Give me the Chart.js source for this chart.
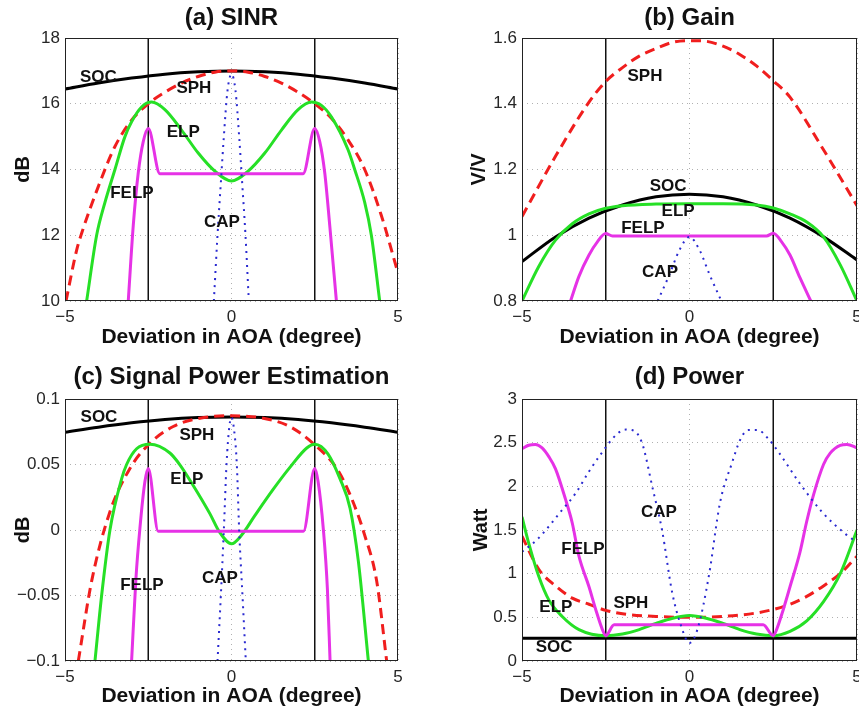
<!DOCTYPE html>
<html>
<head>
<meta charset="utf-8">
<script src="https://cdn.jsdelivr.net/npm/chart.js@4.4.1/dist/chart.umd.min.js"></script>
<style>
  html, body { margin: 0; padding: 0; background: #fff; }
  #wrap { position: relative; width: 859px; height: 712px; overflow: hidden; }
  .panel { position: absolute; width: 430px; height: 356px; }
</style>
</head>
<body>
<div id="wrap">
  <div class="panel" style="left:0;top:0"><canvas id="chart-a" width="430" height="356"></canvas></div>
  <div class="panel" style="left:429px;top:0"><canvas id="chart-b" width="430" height="356"></canvas></div>
  <div class="panel" style="left:0;top:356px"><canvas id="chart-c" width="430" height="356"></canvas></div>
  <div class="panel" style="left:429px;top:356px"><canvas id="chart-d" width="430" height="356"></canvas></div>
</div>
<script>
// shared axis values
const xTicks = [-5, 0, 5];
const edges = [-2.5, 2.5];

// (a) SINR, dB
const sinrTicks = [10, 12, 14, 16, 18];
const sinrSOC = [[-5,16.45],[-4,16.63],[-3,16.78],[-2,16.9],[-1,16.97],[0,17.0],[1,16.97],[2,16.9],[3,16.78],[4,16.63],[5,16.45]];
const sinrSPH = [[-4.97,10.0],[-4.65,11.55],[-4.5,12.06],[-4,13.48],[-3.5,14.7],[-3,15.5],[-2.5,16.0],[-2,16.35],[-1.5,16.63],[-1,16.83],[-0.5,16.96],[0,17.0],[0.5,16.96],[1,16.83],[1.5,16.63],[2,16.35],[2.5,16.0],[3,15.56],[3.5,14.9],[4,14.0],[4.5,12.6],[5,10.85]];
const sinrELP = [[-4.35,10],[-4.05,12],[-3.8,13.0],[-3.5,14.0],[-3.2,15.0],[-3,15.45],[-2.7,15.9],[-2.4,16.05],[-2,15.82],[-1.5,15.2],[-1,14.5],[-0.5,13.95],[0,13.65],[0.5,13.95],[1,14.5],[1.5,15.2],[2,15.82],[2.4,16.05],[2.7,15.95],[3,15.6],[3.5,14.6],[3.7,14.0],[4,13.0],[4.2,12.0],[4.45,10]];
const sinrFELP = [[-3.1,10],[-2.95,12.3],[-2.8,13.9],[-2.65,14.85],[-2.5,15.25],[-2.15,13.87],[0,13.87],[2.15,13.87],[2.5,15.25],[2.65,14.85],[2.8,13.9],[2.95,12.3],[3.15,10]];
const sinrCAP = [[-0.53,10],[-0.42,12],[-0.32,13.6],[-0.23,15.0],[-0.12,16.4],[0,16.9],[0.12,16.4],[0.23,15.0],[0.32,13.6],[0.42,12],[0.52,10]];

// (b) Gain, V/V
const gainTicks = [0.8, 1, 1.2, 1.4, 1.6];
const gainSOC = [[-5,0.92],[-4,0.995],[-3,1.052],[-2,1.092],[-1,1.117],[0,1.125],[1,1.117],[2,1.092],[3,1.052],[4,0.995],[5,0.925]];
const gainSPH = [[-5,1.057],[-4,1.24],[-3,1.405],[-2.5,1.468],[-2,1.51],[-1.5,1.545],[-1,1.568],[-0.5,1.587],[0,1.592],[0.5,1.59],[1,1.575],[1.5,1.55],[2,1.515],[2.5,1.47],[3,1.42],[4,1.26],[5,1.09]];
const gainELP = [[-5,0.8],[-4.5,0.905],[-4,0.985],[-3.5,1.035],[-3,1.065],[-2.5,1.082],[-2,1.09],[-1,1.095],[0,1.096],[1,1.096],[2,1.092],[2.5,1.083],[3,1.065],[3.5,1.04],[4,0.995],[4.5,0.91],[5,0.8]];
const gainFELP = [[-3.55,0.8],[-3.3,0.875],[-3,0.94],[-2.75,0.98],[-2.5,1.005],[-2.3,0.998],[0,0.998],[2.3,0.998],[2.5,1.006],[2.75,0.98],[3,0.94],[3.3,0.87],[3.62,0.8]];
const gainCAP = [[-0.95,0.8],[-0.6,0.88],[-0.3,0.955],[0,0.995],[0.3,0.955],[0.6,0.88],[0.95,0.8]];

// (c) Signal Power Estimation, dB
const spwrTicks = [-0.1, -0.05, 0, 0.05, 0.1];
const spwrSOC = [[-5,0.0746],[-4,0.0785],[-3,0.0818],[-2,0.0843],[-1,0.0858],[0,0.0863],[1,0.0858],[2,0.0843],[3,0.0818],[4,0.0785],[5,0.0746]];
const spwrSPH = [[-4.6,-0.1],[-4.2,-0.039],[-3.65,0.014],[-3.05,0.047],[-2.5,0.065],[-1.75,0.079],[-0.95,0.0853],[0,0.0872],[0.95,0.0853],[1.75,0.079],[2.5,0.065],[3.16,0.047],[3.56,0.027],[4.0,-0.004],[4.36,-0.039],[4.66,-0.1]];
const spwrELP = [[-4.1,-0.1],[-3.9,-0.05],[-3.65,0],[-3.3,0.039],[-3.15,0.05],[-2.85,0.062],[-2.45,0.0655],[-1.85,0.0588],[-1.55,0.0498],[-1.15,0.034],[-0.65,0.0125],[-0.35,-0.002],[0,-0.0105],[0.3,-0.004],[0.7,0.011],[1.25,0.031],[1.76,0.048],[2.26,0.0626],[2.5,0.0655],[2.9,0.058],[3.26,0.039],[3.56,0.0166],[3.81,-0.024],[4.11,-0.1]];
const spwrFELP = [[-3.0,-0.1],[-2.87,-0.037],[-2.75,0.0015],[-2.6,0.037],[-2.5,0.047],[-2.2,-0.001],[2.16,-0.001],[2.5,0.047],[2.6,0.037],[2.76,0.0],[2.88,-0.045],[2.96,-0.1]];
const spwrCAP = [[-0.42,-0.1],[-0.32,-0.05],[-0.23,0],[-0.15,0.05],[-0.06,0.08],[0,0.086],[0.06,0.08],[0.16,0.05],[0.23,0],[0.33,-0.05],[0.43,-0.1]];

// (d) Power, Watt
const powTicks = [0, 0.5, 1, 1.5, 2, 2.5, 3];
const powSOC = [[-5,0.26],[5,0.26]];
const powSPH = [[-5,1.43],[-4.5,1.05],[-4,0.86],[-3.5,0.72],[-3,0.65],[-2.5,0.58],[-2,0.54],[-1,0.51],[0,0.5],[1,0.51],[2,0.55],[2.5,0.59],[3,0.65],[3.5,0.74],[4,0.86],[4.5,1.0],[5,1.2]];
const powELP = [[-5,1.65],[-4.8,1.35],[-4.5,0.97],[-4.2,0.7],[-3.8,0.51],[-3.3,0.36],[-2.5,0.29],[-2,0.31],[-1.5,0.36],[-1,0.43],[-0.5,0.49],[0,0.52],[0.5,0.49],[1,0.43],[1.5,0.36],[2,0.31],[2.5,0.29],[3,0.34],[3.5,0.46],[4,0.68],[4.5,1.0],[5,1.5]];
const powFELP = [[-5,2.43],[-4.8,2.47],[-4.6,2.48],[-4.4,2.44],[-4.2,2.34],[-4,2.2],[-3.7,1.85],[-3.5,1.58],[-3.3,1.2],[-3,0.85],[-2.8,0.59],[-2.6,0.36],[-2.5,0.29],[-2.25,0.415],[2.2,0.415],[2.5,0.29],[2.6,0.36],[2.8,0.59],[3,0.85],[3.3,1.25],[3.5,1.6],[3.7,1.9],[4,2.25],[4.2,2.38],[4.5,2.47],[4.7,2.48],[5,2.44]];
const powCAP = [[-5,1.25],[-4.55,1.39],[-3.8,1.73],[-3.4,1.92],[-3,2.17],[-2.7,2.34],[-2.16,2.6],[-1.9,2.65],[-1.72,2.645],[-1.42,2.5],[-1.09,1.96],[-0.82,1.5],[-0.52,0.79],[-0.28,0.435],[0,0.206],[0.25,0.378],[0.58,0.98],[0.91,1.81],[1.27,2.27],[1.51,2.53],[1.75,2.645],[2.04,2.645],[2.34,2.55],[2.68,2.38],[3.28,2.04],[3.97,1.7],[4.67,1.45],[5,1.36]];

// curve name labels: [text, x, y] in data units
const sinrLabels = [['SOC',-4.0,16.8],['SPH',-1.13,16.48],['ELP',-1.45,15.14],['FELP',-2.99,13.29],['CAP',-0.29,12.4]];
const gainLabels = [['SPH',-1.33,1.484],['SOC',-0.64,1.15],['ELP',-0.34,1.074],['FELP',-1.39,1.022],['CAP',-0.88,0.888]];
const spwrLabels = [['SOC',-3.98,0.0863],['SPH',-1.04,0.0725],['ELP',-1.34,0.039],['FELP',-2.69,-0.042],['CAP',-0.35,-0.037]];
const powLabels = [['CAP',-0.91,1.706],['FELP',-3.18,1.28],['ELP',-3.99,0.62],['SPH',-1.75,0.664],['SOC',-4.04,0.16]];

Chart.defaults.font.family = '"Liberation Sans", Arial, Helvetica, sans-serif';
Chart.defaults.color = '#222';

const fmt = v => String(v).replace('-', '\u2212');
const toXY = pts => pts.map(([x, y]) => ({ x, y }));

// labels on the curves + black box round the plot
const curveLabels = {
  id: 'curveLabels',
  afterDatasetsDraw(chart, args, opts) {
    const { ctx, chartArea: a } = chart;
    const { x, y } = chart.scales;
    ctx.save();
    ctx.font = 'bold 17px "Liberation Sans", Arial, sans-serif';
    ctx.fillStyle = '#111';
    ctx.textAlign = 'center';
    ctx.textBaseline = 'middle';
    opts.items.forEach(([t, vx, vy]) => ctx.fillText(t, x.getPixelForValue(vx), y.getPixelForValue(vy)));
    ctx.strokeStyle = '#222';
    ctx.lineWidth = 1;
    ctx.strokeRect(a.left + 0.5, a.top + 0.5, a.right - a.left - 1, a.bottom - a.top - 1);
    ctx.restore();
  }
};

function makePanel(id, p) {
  const yMin = p.yTicks[0], yMax = p.yTicks[p.yTicks.length - 1];
  const curve = (pts, color, extra) => Object.assign({ data: toXY(pts), borderColor: color, borderWidth: 3 }, extra || {});
  new Chart(document.getElementById(id), {
    type: 'line',
    data: {
      datasets: [
        curve(p.cap, '#2a2ad0', { borderWidth: 2, borderDash: [2, 5] }),
        curve(p.felp, '#e632e6'),
        curve(p.elp, '#26e026'),
        curve(p.sph, '#f01e1e', { borderDash: [10, 6] }),
        curve(p.soc, '#000'),
        ...edges.map(e => ({ data: [{ x: e, y: yMin }, { x: e, y: yMax }], borderColor: '#111', borderWidth: 1.5, cubicInterpolationMode: 'default', tension: 0 }))
      ]
    },
    options: {
      responsive: false,
      animation: false,
      events: [],
      elements: { point: { radius: 0 }, line: { cubicInterpolationMode: 'monotone', fill: false } },
      layout: { padding: { left: 0, right: p.padRight, top: 0, bottom: 0 } },
      plugins: {
        legend: { display: false },
        tooltip: { enabled: false },
        title: {
          display: true, text: p.title, fullSize: false, color: '#111',
          font: { size: 24, weight: 'bold' },
          padding: { top: p.tTop, bottom: p.tBot }
        },
        curveLabels: { items: p.labels }
      },
      scales: {
        x: {
          type: 'linear', min: -5, max: 5,
          afterBuildTicks: s => { s.ticks = xTicks.map(v => ({ value: v })); },
          afterFit: s => { s.height = p.xHeight; s.paddingLeft = 0; s.paddingRight = 0; },
          ticks: { callback: fmt, font: { size: 17 }, padding: 6, maxRotation: 0, autoSkip: false, color: '#262626' },
          grid: { color: '#b0b0b0', lineWidth: 1, drawTicks: false },
          border: { display: false, dash: [1, 4] },
          title: { display: true, text: 'Deviation in AOA (degree)', color: '#111', font: { size: 21, weight: 'bold' }, padding: { top: 0, bottom: p.xtPad } }
        },
        y: {
          type: 'linear', min: yMin, max: yMax,
          afterBuildTicks: s => { s.ticks = p.yTicks.map(v => ({ value: v })); },
          afterFit: s => { s.width = p.yWidth; s.paddingTop = 0; s.paddingBottom = 0; },
          ticks: { callback: fmt, font: { size: 17 }, padding: 5, autoSkip: false, color: '#262626' },
          grid: { color: '#b0b0b0', lineWidth: 1, drawTicks: false },
          border: { display: false, dash: [1, 4] },
          title: { display: true, text: p.yTitle, color: '#111', font: { size: 20, weight: 'bold' }, padding: { top: p.ytPad, bottom: 0 } }
        }
      }
    },
    plugins: [curveLabels]
  });
}

makePanel('chart-a', { title: '(a) SINR', yTitle: 'dB', yTicks: sinrTicks, labels: sinrLabels,
  soc: sinrSOC, sph: sinrSPH, elp: sinrELP, felp: sinrFELP, cap: sinrCAP,
  yWidth: 65, padRight: 32, xHeight: 55, tTop: 4, tBot: 5.2, xtPad: 6.4, ytPad: 11 });
makePanel('chart-b', { title: '(b) Gain', yTitle: 'V/V', yTicks: gainTicks, labels: gainLabels,
  soc: gainSOC, sph: gainSPH, elp: gainELP, felp: gainFELP, cap: gainCAP,
  yWidth: 93, padRight: 2, xHeight: 55, tTop: 4, tBot: 5.2, xtPad: 6.4, ytPad: 38 });
makePanel('chart-c', { title: '(c) Signal Power Estimation', yTitle: 'dB', yTicks: spwrTicks, labels: spwrLabels,
  soc: spwrSOC, sph: spwrSPH, elp: spwrELP, felp: spwrFELP, cap: spwrCAP,
  yWidth: 65, padRight: 32, xHeight: 51, tTop: 6.6, tBot: 7.6, xtPad: 3.4, ytPad: 11 });
makePanel('chart-d', { title: '(d) Power', yTitle: 'Watt', yTicks: powTicks, labels: powLabels,
  soc: powSOC, sph: powSPH, elp: powELP, felp: powFELP, cap: powCAP,
  yWidth: 93, padRight: 2, xHeight: 51, tTop: 6.6, tBot: 7.6, xtPad: 3.4, ytPad: 40 });
</script>
</body>
</html>
